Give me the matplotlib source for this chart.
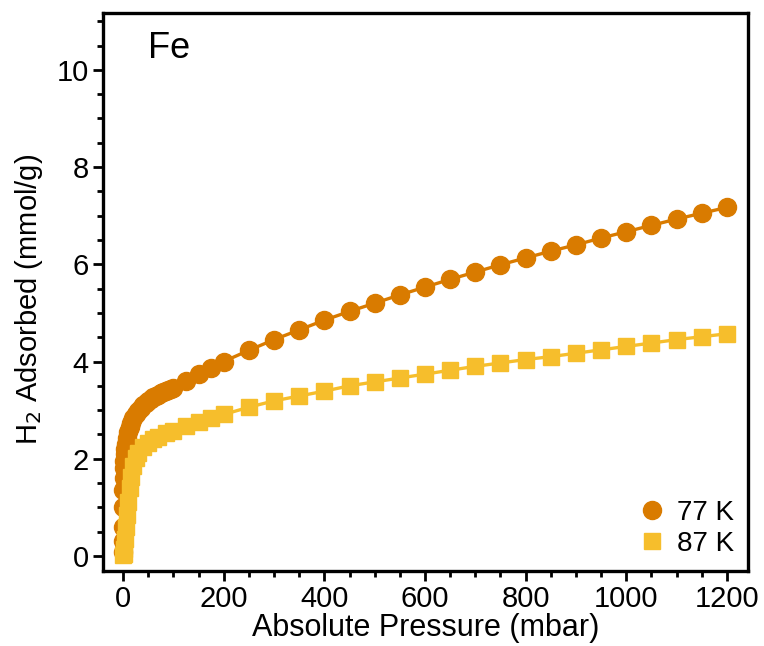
import matplotlib
matplotlib.use("Agg")
import matplotlib.pyplot as plt
from matplotlib.ticker import MultipleLocator

plt.rcParams['font.family'] = ['Liberation Sans', 'DejaVu Sans']

# 77 K isotherm
p_77 = [0.05, 0.1, 0.2, 0.4, 0.7, 1, 1.5, 2, 3, 4, 5, 7, 10, 13, 16, 20, 25, 30, 35, 40,
        45, 50, 55, 60, 65, 70, 75, 80, 85, 90, 95, 100, 125, 150, 175, 200, 250, 300,
        350, 400, 450, 500, 550, 600, 650, 700, 750, 800, 850, 900, 950, 1000, 1050,
        1100, 1150, 1200]
q_77 = [0.08, 0.3, 0.6, 1.0, 1.35, 1.6, 1.8, 1.95, 2.1, 2.2, 2.3, 2.42, 2.55, 2.65, 2.74,
        2.83, 2.92, 2.99, 3.05, 3.1, 3.15, 3.19, 3.23, 3.26, 3.29, 3.32, 3.35, 3.37, 3.39,
        3.41, 3.43, 3.45, 3.59, 3.74, 3.87, 4.0, 4.23, 4.45, 4.65, 4.85, 5.03, 5.2, 5.37,
        5.53, 5.69, 5.84, 5.99, 6.13, 6.27, 6.4, 6.54, 6.67, 6.8, 6.93, 7.05, 7.17]

# 87 K isotherm
p_87 = [0.5, 1, 2, 4, 6, 8, 10, 13, 16, 20, 25, 30, 40, 50, 60, 70, 85, 100, 125, 150,
        175, 200, 250, 300, 350, 400, 450, 500, 550, 600, 650, 700, 750, 800, 850, 900,
        950, 1000, 1050, 1100, 1150, 1200]
q_87 = [0.02, 0.05, 0.15, 0.35, 0.6, 0.85, 1.1, 1.4, 1.62, 1.85, 2.02, 2.12, 2.25, 2.33,
        2.4, 2.45, 2.52, 2.58, 2.67, 2.75, 2.83, 2.91, 3.06, 3.19, 3.29, 3.39, 3.5, 3.58,
        3.66, 3.74, 3.82, 3.9, 3.97, 4.04, 4.1, 4.17, 4.24, 4.31, 4.38, 4.45, 4.51, 4.57]

c77 = '#D97B00'
c87 = '#F6BE2C'

fig = plt.figure(figsize=(7.64, 6.46), dpi=100)
ax = fig.add_axes([0.1348, 0.1161, 0.979 - 0.1348, 0.9799 - 0.1161])

ax.plot(p_77, q_77, color=c77, lw=2.4, marker='o', ms=13, mec=c77, mfc=c77, label='77 K')
ax.plot(p_87, q_87, color=c87, lw=2.4, marker='s', ms=12, mec=c87, mfc=c87, label='87 K')

ax.set_xlim(-40, 1242)
ax.set_ylim(-0.31, 11.17)
ax.xaxis.set_major_locator(MultipleLocator(200))
ax.xaxis.set_minor_locator(MultipleLocator(50))
ax.yaxis.set_major_locator(MultipleLocator(2))
ax.yaxis.set_minor_locator(MultipleLocator(0.5))

for s in ax.spines.values():
    s.set_linewidth(2.4)
ax.tick_params(which='major', direction='out', length=7.2, width=2, labelsize=21, pad=3)
ax.tick_params(which='minor', direction='out', length=4.3, width=2)

ax.set_xlabel('Absolute Pressure (mbar)', fontsize=22, labelpad=0)
ax.set_ylabel('H$_2$ Adsorbed (mmol/g)', fontsize=21)
ax.yaxis.set_label_coords(-0.09, 0.487)

ax.text(0.07, 0.968, 'Fe', transform=ax.transAxes, fontsize=26, va='top', ha='left')

leg = ax.legend(loc='lower right', frameon=False, fontsize=20, handlelength=0.8,
                handletextpad=0.5, borderaxespad=0.1, labelspacing=0.2)
for h in leg.legend_handles:
    h.set_linestyle('None')

fig.savefig('out.png', dpi=100)
